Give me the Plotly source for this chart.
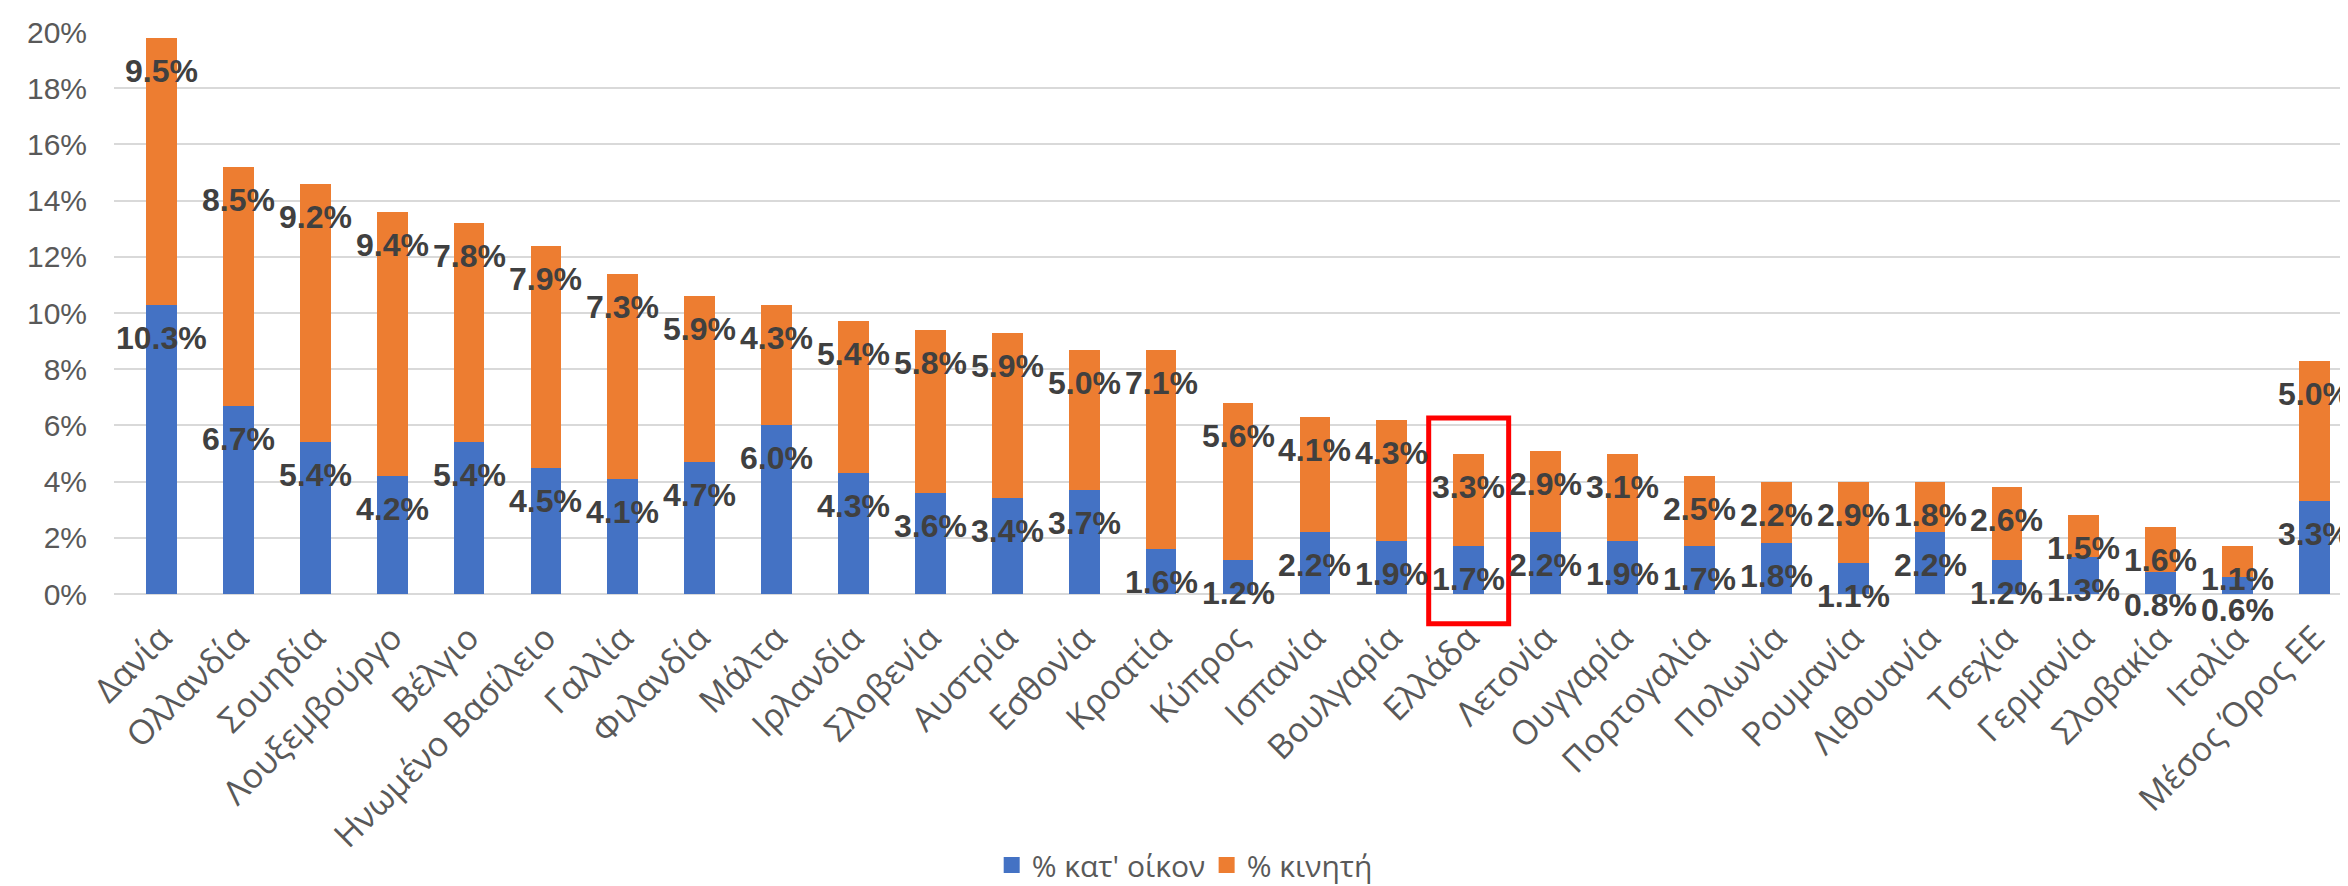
import plotly.graph_objects as go

countries = ["Δανία", "Ολλανδία", "Σουηδία", "Λουξεμβούργο", "Βέλγιο", "Ηνωμένο Βασίλειο",
             "Γαλλία", "Φιλανδία", "Μάλτα", "Ιρλανδία", "Σλοβενία", "Αυστρία", "Εσθονία",
             "Κροατία", "Κύπρος", "Ισπανία", "Βουλγαρία", "Ελλάδα", "Λετονία", "Ουγγαρία",
             "Πορτογαλία", "Πολωνία", "Ρουμανία", "Λιθουανία", "Τσεχία", "Γερμανία",
             "Σλοβακία", "Ιταλία", "Μέσος Όρος ΕΕ"]
home = [10.3, 6.7, 5.4, 4.2, 5.4, 4.5, 4.1, 4.7, 6.0, 4.3, 3.6, 3.4, 3.7, 1.6, 1.2,
        2.2, 1.9, 1.7, 2.2, 1.9, 1.7, 1.8, 1.1, 2.2, 1.2, 1.3, 0.8, 0.6, 3.3]
mobile = [9.5, 8.5, 9.2, 9.4, 7.8, 7.9, 7.3, 5.9, 4.3, 5.4, 5.8, 5.9, 5.0, 7.1, 5.6,
          4.1, 4.3, 3.3, 2.9, 3.1, 2.5, 2.2, 2.9, 1.8, 2.6, 1.5, 1.6, 1.1, 5.0]
series_names = ["% κατ' οίκον", "% κινητή"]
colors = ["#4472C4", "#ED7D31"]
highlight = "Ελλάδα"
y_ticks = [0, 2, 4, 6, 8, 10, 12, 14, 16, 18, 20]
y_tick_labels = ["0%", "2%", "4%", "6%", "8%", "10%", "12%", "14%", "16%", "18%", "20%"]

W, H = 2348, 886
ML, MR, MT, MB = 106, 3, 24, 292

fig = go.Figure()
fig.add_trace(go.Bar(x=countries, y=home, name=series_names[0],
                     marker=dict(color=colors[0], line=dict(width=0)), showlegend=False))
fig.add_trace(go.Bar(x=countries, y=mobile, name=series_names[1],
                     marker=dict(color=colors[1], line=dict(width=0)), showlegend=False))
# legend entries with larger square markers, one legend box per series
legend_ids = ["legend", "legend2"]
for nm, c, lg in zip(series_names, colors, legend_ids):
    fig.add_trace(go.Scatter(x=[None], y=[None], mode="markers", name=nm, legend=lg,
                             marker=dict(symbol="square", size=16, color=c)))

label_font = dict(family="Arial, Liberation Sans, sans-serif", size=32, color="#404040", weight="bold")
annotations = []
for i, c in enumerate(countries):
    tops = [home[i], home[i] + mobile[i]]
    vals = [home[i], mobile[i]]
    for t, v in zip(tops, vals):
        annotations.append(dict(x=c, y=t, xref="x", yref="y", text=f"{v:.1f}%", showarrow=False,
                                yanchor="middle", xanchor="center", yshift=-33, font=label_font))

hi = countries.index(highlight)
fig.add_shape(type="rect", xref="x", yref="paper", x0=hi - 0.52, x1=hi + 0.52,
              y0=-0.053, y1=0.313, line=dict(color="#FF0000", width=5), layer="above")

legend_font = dict(family="Open Sans, sans-serif", size=30, color="#595959")
fig.update_layout(
    width=W, height=H,
    margin=dict(l=ML, r=MR, t=MT, b=MB),
    paper_bgcolor="white", plot_bgcolor="white",
    barmode="stack", bargap=0.6,
    annotations=annotations,
    legend=dict(orientation="h", x=0.392, xanchor="left", y=-0.482, yanchor="middle",
                font=legend_font, itemwidth=30, bgcolor="rgba(0,0,0,0)"),
    legend2=dict(orientation="h", x=0.488, xanchor="left", y=-0.482, yanchor="middle",
                 font=legend_font, itemwidth=30, bgcolor="rgba(0,0,0,0)"),
    xaxis=dict(type="category", tickangle=-45, showgrid=False, showline=False, zeroline=False,
               tickfont=dict(family="Open Sans, sans-serif", size=34, color="#595959"),
               ticklabelstandoff=16),
    yaxis=dict(range=[0, 20], tickmode="array", tickvals=y_ticks, ticktext=y_tick_labels,
               showgrid=True, gridcolor="#D9D9D9",
               gridwidth=2, zeroline=True, zerolinecolor="#D9D9D9", zerolinewidth=2, showline=False,
               tickfont=dict(family="Arial, Liberation Sans, sans-serif", size=30, color="#595959"),
               ticklabelstandoff=26),
)

fig.write_html("out.html")
